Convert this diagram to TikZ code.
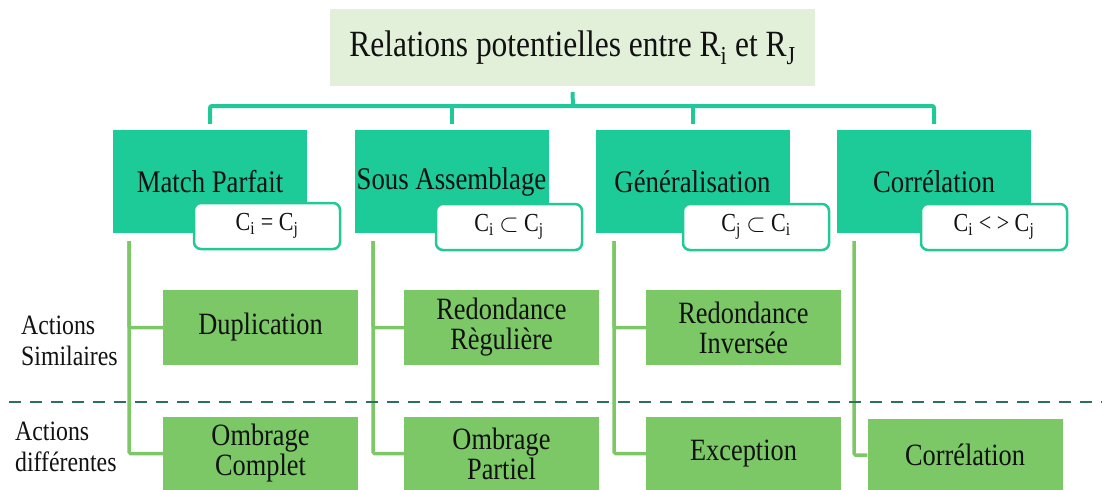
\documentclass[tikz,border=0pt]{standalone}
\usepackage{fontspec}
\setmainfont{Liberation Serif}[FakeStretch=0.85]
\definecolor{titlefill}{HTML}{E2F0D9}
\definecolor{catfill}{HTML}{1CCB97}
\definecolor{busline}{HTML}{20C997}
\definecolor{tagline}{HTML}{22C995}
\definecolor{actfill}{HTML}{7CC866}
\definecolor{branchline}{HTML}{7CC866}
\definecolor{sepline}{HTML}{2F6F5F}
\definecolor{ink}{HTML}{111111}
\begin{document}
\begin{tikzpicture}[x=1pt,y=-1pt,
  every node/.style={text=ink},
  titlebox/.style={fill=titlefill, minimum width=485pt, minimum height=77pt, inner sep=0pt,
    font=\fontsize{37}{40}\selectfont},
  catbox/.style={fill=catfill, minimum width=194pt, minimum height=103pt, inner sep=0pt,
    font=\fontsize{31.5}{34}\selectfont},
  tagbox/.style={draw=tagline, line width=2.5pt, fill=white, rounded corners=7pt,
    minimum width=146pt, minimum height=46pt, inner sep=0pt, font=\fontsize{26}{28}\selectfont},
  actbox/.style={fill=actfill, minimum width=195pt, minimum height=75pt, inner sep=0pt,
    align=center, font=\fontsize{31}{30}\selectfont},
  lowbox/.style={actbox, minimum height=73pt},
  sidelabel/.style={anchor=west, align=left, inner sep=0pt, font=\fontsize{28}{31}\selectfont},
  bus/.style={draw=busline, line width=4pt, rounded corners=2pt},
  branch/.style={draw=branchline, line width=3.5pt, rounded corners=1.5pt},
  sep/.style={draw=sepline, line width=2.5pt, dash pattern=on 12pt off 9pt}
]
\useasboundingbox (0,0) rectangle (1106,490);

% root
\node[titlebox] (title) at (572.5,47.5) {Relations potentielles entre R\textsubscript{i} et R\textsubscript{J}};

% relation categories
\node[catbox] (m1) at (210,181.5) {Match Parfait};
\node[catbox] (m2) at (451.5,181.5) {Sous Assemblage};
\node[catbox] (m3) at (692.5,181.5) {Généralisation};
\node[catbox] (m4) at (934,181.5) {Corrélation};

% condition tags
\node[tagbox] (t1) at (267,226) {C\textsubscript{i} = C\textsubscript{j}};
\node[tagbox] (t2) at (509,227) {C\textsubscript{i} $\subset$ C\textsubscript{j}};
\node[tagbox] (t3) at (756,227) {C\textsubscript{j} $\subset$ C\textsubscript{i}};
\node[tagbox] (t4) at (994,227) {C\textsubscript{i} {<} {>} C\textsubscript{j}};

% tree bus
\coordinate (bus) at (573,106);
\draw[bus] ([yshift=6pt]m1.north) -- (m1.north |- bus) -- (m4.north |- bus) -- ([yshift=6pt]m4.north);
\draw[bus] ([yshift=-6pt]title.south) -- (bus);
\draw[bus] ([yshift=6pt]m2.north) -- (m2.north |- bus);
\draw[bus] ([yshift=6pt]m3.north) -- (m3.north |- bus);

% actions
\node[actbox] (a1) at (260.5,327.5) {Duplication};
\node[actbox] (a2) at (501.5,327.5) {Redondance\\Règulière};
\node[actbox] (a3) at (743.5,327.5) {Redondance\\Inversée};
\node[lowbox] (b1) at (260.5,453.5) {Ombrage\\Complet};
\node[lowbox] (b2) at (501.5,453.5) {Ombrage\\Partiel};
\node[lowbox] (b3) at (743.5,453.5) {Exception};
\node[lowbox] (b4) at (965,455) {Corrélation};

% branches from each category
\coordinate (s1) at (129,241);
\coordinate (s2) at (373,241);
\coordinate (s3) at (614,241);
\coordinate (s4) at (854,241);
\draw[branch] (s1) |- (a1.west);
\draw[branch] (s1) |- (b1.west);
\draw[branch] (s2) |- (a2.west);
\draw[branch] (s2) |- (b2.west);
\draw[branch] (s3) |- (a3.west);
\draw[branch] (s3) |- (b3.west);
\draw[branch] (s4) |- (b4.west);

% separator between the two kinds of actions
\coordinate (sepL) at (9,402);
\coordinate (sepR) at (1102,402);
\draw[sep] (sepL) -- (sepR);

% row labels
\node[sidelabel] (lsim) at (21,341) {Actions\\Similaires};
\node[sidelabel] (ldif) at (15,447) {Actions\\différentes};
\end{tikzpicture}
\end{document}
